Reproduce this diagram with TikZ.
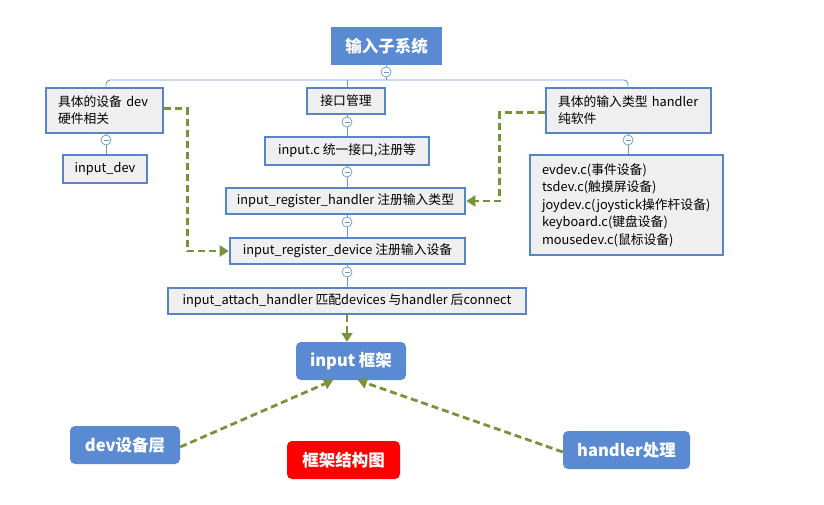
\documentclass[tikz,border=0pt]{standalone}
\usepackage{fontspec}
\setmainfont{Noto Sans CJK SC}
\usetikzlibrary{arrows.meta}
\definecolor{boxblue}{HTML}{5585C5}
\definecolor{fillblue}{HTML}{5A8BD2}
\definecolor{boxgray}{HTML}{EFEFEF}
\definecolor{dgreen}{HTML}{77933C}
\definecolor{tline}{HTML}{6C96CC}
\tikzset{
  x=1pt,y=-1pt,
  topbox/.style={fill=fillblue,text=white,font=\fontsize{16.5}{18}\selectfont\bfseries,inner sep=0pt,minimum width=#1,minimum height=38},
  rtopbox/.style={topbox=#1,rounded corners=5},
  redbox/.style={fill=red,text=white,font=\fontsize{16.5}{18}\selectfont\bfseries,inner sep=0pt,minimum width=#1,minimum height=38,rounded corners=5},
  gbox/.style={draw=boxblue,line width=2.6pt,fill=boxgray,font=\fontsize{12.8}{17}\selectfont,inner sep=0pt,minimum width=#1,minimum height=26},
  mbox/.style={gbox=#1,align=left,text width=#1-24pt,inner xsep=12pt},
  tog/.style={circle,draw=tline,fill=white,line width=0.7pt,minimum size=10pt,inner sep=0pt,
    path picture={\draw[tline,line width=0.7pt] ([xshift=-2.5pt]path picture bounding box.center) -- ([xshift=2.5pt]path picture bounding box.center);}},
  tree/.style={draw=tline,line width=0.9pt},
  garrow/.style={draw=dgreen,line width=2.8pt,dash pattern=on 7pt off 4pt,-{Triangle[length=9pt,width=11pt]}},
}
\begin{document}
\begin{tikzpicture}
\useasboundingbox (0,0) rectangle (824,504);
% main nodes
\node[topbox=111] (root) at (386.5,46) {输入子系统};
\node[mbox=117,minimum height=45] (dev) at (104.5,110.5) {具体的设备 dev\\硬件相关};
\node[gbox=84,minimum height=28] (idev) at (105,169) {input\_dev};
\node[gbox=78] (jk) at (346,101) {接口管理};
\node[gbox=164,minimum height=28] (inc) at (347,151) {input.c 统一接口,注册等};
\node[gbox=239] (regh) at (345.5,201) {input\_register\_handler 注册输入类型};
\node[gbox=235] (regd) at (347.5,251) {input\_register\_device 注册输入设备};
\node[gbox=358] (att) at (347,301) {input\_attach\_handler 匹配devices 与handler 后connect};
\node[mbox=165,minimum height=45] (hdl) at (628.5,110.5) {具体的输入类型 handler\\纯软件};
\node[mbox=193,minimum height=100,font=\fontsize{12.8}{17.5}\selectfont] (lst) at (626.5,205) {evdev.c(事件设备)\\tsdev.c(触摸屏设备)\\joydev.c(joystick操作杆设备)\\keyboard.c(键盘设备)\\mousedev.c(鼠标设备)};
\node[rtopbox=110] (frm) at (351,361) {input 框架};
\node[rtopbox=110] (devl) at (125,445) {dev设备层};
\node[rtopbox=127] (hpr) at (626.5,450) {handler处理};
\node[redbox=113] (ttl) at (343.5,460) {框架结构图};
% tree lines
\coordinate (bus) at (386,80);
\node[tog] (c0) at (386,72) {};
\node[tog] (c1) at (106,140) {};
\node[tog] (c2) at (347,122) {};
\node[tog] (c3) at (347,172) {};
\node[tog] (c4) at (347,222) {};
\node[tog] (c5) at (347,272) {};
\node[tog] (c6) at (628,140) {};
\draw[tree] (root.south) -- (c0.north);
\draw[tree] (c0.south) -- (bus);
\draw[tree,rounded corners=4] (dev.north -| c1) |- (bus) -| (hdl.north -| c6);
\draw[tree] (jk.north -| c2) -- (c2 |- bus);
\draw[tree] (c1.north) -- (c1 |- dev.south);
\draw[tree] (c1.south) -- (c1 |- idev.north);
\draw[tree] (c2.north) -- (c2 |- jk.south);
\draw[tree] (c2.south) -- (c2 |- inc.north);
\draw[tree] (c3.north) -- (c3 |- inc.south);
\draw[tree] (c3.south) -- (c3 |- regh.north);
\draw[tree] (c4.north) -- (c4 |- regh.south);
\draw[tree] (c4.south) -- (c4 |- regd.north);
\draw[tree] (c5.north) -- (c5 |- regd.south);
\draw[tree] (c5.south) -- (c5 |- att.north);
\draw[tree] (c6.north) -- (c6 |- hdl.south);
\draw[tree] (c6.south) -- (c6 |- lst.north);
% dashed arrows
\draw[garrow] ([yshift=2]dev.east) -- ++(23,0) |- (regd.west);
\draw[garrow] ([yshift=-2]hdl.west) -- ++(-45,0) |- (regh.east);
\draw[garrow] (att.south -| c5) -- (frm.north -| c5);
\draw[garrow] ([yshift=-2]devl.east) -- ([xshift=-18]frm.south);
\draw[garrow] ([yshift=-2]hpr.west) -- ([xshift=7]frm.south);
\end{tikzpicture}
\end{document}
